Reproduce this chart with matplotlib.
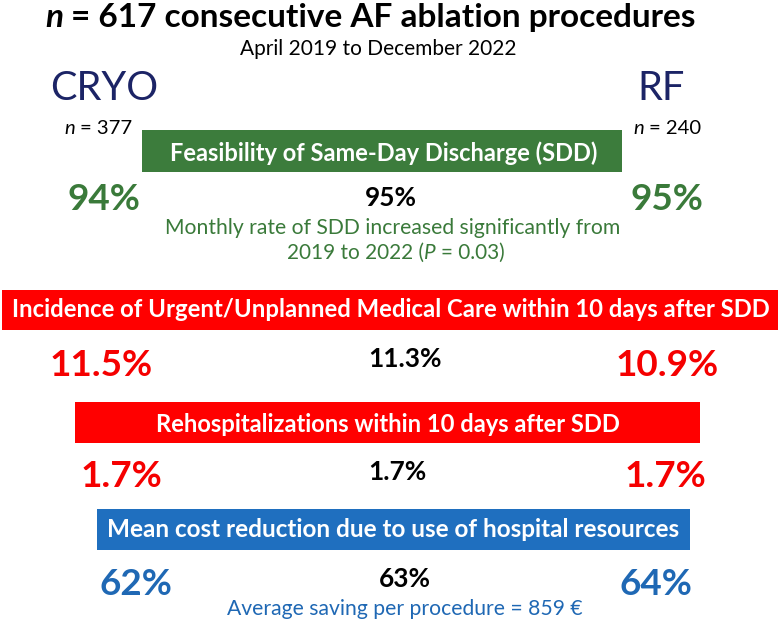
import matplotlib
matplotlib.use("Agg")
import matplotlib.pyplot as plt
from matplotlib.patches import Rectangle

# ---------------- data ----------------
n_total = 617
date_range = "April 2019 to December 2022"
groups = ["CRYO", "RF"]
group_n = [377, 240]
metrics = [
    "Feasibility of Same-Day Discharge (SDD)",
    "Incidence of Urgent/Unplanned Medical Care within 10 days after SDD",
    "Rehospitalizations within 10 days after SDD",
    "Mean cost reduction due to use of hospital resources",
]
cryo_vals = [94, 11.5, 1.7, 62]
overall_vals = [95, 11.3, 1.7, 63]
rf_vals = [95, 10.9, 1.7, 64]
decimals = [0, 1, 1, 0]
sdd_p_value = 0.03
saving_eur = 859

# ---------------- layout / style ----------------
W, H = 780, 622
fig = plt.figure(figsize=(7.8, 6.22), dpi=100)
ax = fig.add_axes([0, 0, 1, 1])
ax.set_xlim(0, W)
ax.set_ylim(H, 0)
ax.axis("off")
renderer = fig.canvas.get_renderer()
FAM = ["Lato", "DejaVu Sans"]

NAVY = "#1c2466"
GREEN_BOX = "#3c7c3c"
GREEN_TXT = "#3a7a3a"
RED_BOX = "#ff0000"
RED_TXT = "#f50000"
BLUE_BOX = "#1f6fbf"
BLUE_TXT = "#1f68b4"

box_colors = [GREEN_BOX, RED_BOX, RED_BOX, BLUE_BOX]
val_colors = [GREEN_TXT, RED_TXT, RED_TXT, BLUE_TXT]
boxes = [(142, 130, 622, 172), (2, 290, 778, 330), (75, 402, 700, 443), (97, 509, 690, 550)]
box_text = [(170, 597, 161), (12, 770, 317), (155, 620, 432), (107, 680, 537)]
side_base = [210, 376, 487, 595]
mid_base = [206, 367, 480, 587]
left_cx = [103.5, 101, 121, 136]
right_cx = [666.5, 667.5, 665, 656]
mid_cx = [391, 405, 397, 404.5]


def width_of(t):
    return t.get_window_extent(renderer).width


def fit_text(s, x0, x1, y, color, weight="normal", style="normal"):
    t = ax.text((x0 + x1) / 2, y, s, ha="center", va="baseline", fontsize=20,
                color=color, fontweight=weight, fontstyle=style, family=FAM)
    size = 20 * (x1 - x0) / width_of(t)
    t.set_fontsize(size)
    return t, size


def place(s, cx, y, size, color, weight="normal", style="normal"):
    return ax.text(cx, y, s, ha="center", va="baseline", fontsize=size,
                   color=color, fontweight=weight, fontstyle=style, family=FAM)


def space_w(size, weight):
    a = ax.text(0, 0, "x x", fontsize=size, fontweight=weight, family=FAM)
    b = ax.text(0, 0, "xx", fontsize=size, fontweight=weight, family=FAM)
    w = width_of(a) - width_of(b)
    a.remove(); b.remove()
    return w


def runs_text(runs, y, color, x0=None, x1=None, cx=None, size=None):
    # runs: list of (string, weight, style, space_after)
    texts = [ax.text(0, y, s, ha="left", va="baseline", fontsize=20, color=color,
                     fontweight=w, fontstyle=st, family=FAM) for s, w, st, sp in runs]

    def total(sz):
        tot = 0
        for t, (s, w, st, sp) in zip(texts, runs):
            tot += width_of(t)
            if sp:
                tot += space_w(sz, w)
        return tot

    if size is None:
        size = 20 * (x1 - x0) / total(20)
    for t in texts:
        t.set_fontsize(size)
    tot = total(size)
    if x0 is None:
        x0 = cx - tot / 2
    x = x0
    for t, (s, w, st, sp) in zip(texts, runs):
        t.set_x(x)
        x += width_of(t)
        if sp:
            x += space_w(size, w)
    return size


# title
runs_text([("n", "bold", "italic", True),
           (f"= {n_total} consecutive AF ablation procedures", "bold", "normal", False)],
          27, "black", x0=45, x1=695)
fit_text(date_range, 240, 517, 55, "black")

# group headers
_, gsize = fit_text(groups[0], 50, 158, 100, NAVY)
place(groups[1], 661.5, 100, gsize, NAVY)
nsize = runs_text([("n", "normal", "italic", True), (f"= {group_n[0]}", "normal", "normal", False)],
                  134, "black", x0=64, x1=132)
runs_text([("n", "normal", "italic", True), (f"= {group_n[1]}", "normal", "normal", False)],
          134, "black", cx=667, size=nsize)

# metric boxes
for (x0, y0, x1, y1), c, m, (tx0, tx1, ty) in zip(boxes, box_colors, metrics, box_text):
    ax.add_patch(Rectangle((x0, y0), x1 - x0, y1 - y0, facecolor=c, edgecolor="none"))
    fit_text(m, tx0, tx1, ty, "white", weight="bold")

# values
probe = ax.text(0, 0, f"{cryo_vals[0]:.{decimals[0]}f}%", fontsize=20, fontweight="bold", family=FAM)
side_size = 20 * 73 / width_of(probe)
probe.remove()
probe = ax.text(0, 0, f"{overall_vals[0]:.{decimals[0]}f}%", fontsize=20, fontweight="bold", family=FAM)
mid_size = 20 * 52 / width_of(probe)
probe.remove()

for i in range(len(metrics)):
    fmt = f"{{:.{decimals[i]}f}}%"
    place(fmt.format(cryo_vals[i]), left_cx[i], side_base[i], side_size, val_colors[i], weight="bold")
    place(fmt.format(rf_vals[i]), right_cx[i], side_base[i], side_size, val_colors[i], weight="bold")
    place(fmt.format(overall_vals[i]), mid_cx[i], mid_base[i], mid_size, "black", weight="bold")

# notes
fit_text("Monthly rate of SDD increased significantly from", 165, 620, 234, GREEN_TXT)
runs_text([("2019 to 2022 (", "normal", "normal", False),
           ("P", "normal", "italic", True),
           (f"= {sdd_p_value:.2f})", "normal", "normal", False)],
          259, GREEN_TXT, x0=287, x1=504)
fit_text(f"Average saving per procedure = {saving_eur} €", 227, 582, 615, BLUE_TXT)

fig.savefig("out.png", dpi=100, facecolor="white")
